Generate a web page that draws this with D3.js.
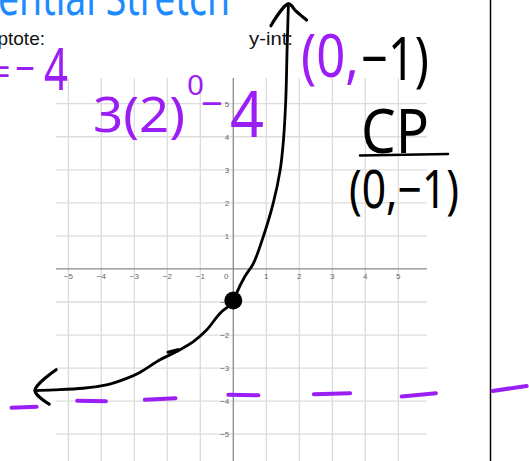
<!DOCTYPE html>
<html>
<head>
<meta charset="utf-8">
<script src="https://cdn.jsdelivr.net/npm/d3@7/dist/d3.min.js"></script>
<style>
  html, body { margin: 0; padding: 0; background: #fff; }
  svg { display: block; }
</style>
</head>
<body>
<script>
// Grid ticks on both axes
const xTicks = [-5, -4, -3, -2, -1, 0, 1, 2, 3, 4, 5];
const yTicks = [-5, -4, -3, -2, -1, 1, 2, 3, 4, 5];

// Sketched curve of y = 3(2)^x - 4, as traced through the grid
const curveX = [-6.01, -5.45, -4.55, -3.84, -3.23, -2.83, -2.22, -1.72, -1.21, -0.81, -0.40, 0.00, 0.10, 0.35, 0.61, 0.91, 1.21, 1.42, 1.52, 1.59, 1.63, 1.67];
const curveY = [-3.68, -3.66, -3.61, -3.51, -3.31, -3.13, -2.75, -2.50, -2.20, -1.85, -1.34, -1.00, -0.73, -0.23, 0.17, 0.98, 1.99, 2.99, 3.90, 5.11, 6.63, 8.02];

// Critical point (y-intercept)
const cpX = [0];
const cpY = [-1];

// Dashes of the horizontal asymptote y = -4
const dashX1 = [-6.72, -4.73, -2.68, -0.15, 2.44, 5.10, 7.86];
const dashX2 = [-5.96, -3.86, -1.75, 0.76, 3.54, 6.14, 8.89];
const dashY1 = [-4.20, -3.99, -3.96, -3.81, -3.79, -3.86, -3.69];
const dashY2 = [-4.17, -4.00, -3.91, -3.82, -3.76, -3.76, -3.54];

const W = 529, H = 461;
const purple = "#9b1ef5", blue = "#1d8bff";
const hand = "'Noto Sans', 'DejaVu Sans', sans-serif";

const svg = d3.select("body").append("svg").attr("width", W).attr("height", H);

const x = d3.scaleLinear().domain([-5, 5]).range([68.3, 398.3]);
const y = d3.scaleLinear().domain([-5, 5]).range([434.2, 103.7]);

// grid extent in data units
const gx0 = x.invert(56), gx1 = x.invert(427);
const gy1 = y.invert(78), gy0 = y.invert(H + 2);

const grid = svg.append("g");
grid.selectAll("line.v").data(xTicks).join("line")
  .attr("x1", d => x(d)).attr("x2", d => x(d))
  .attr("y1", y(gy1)).attr("y2", y(gy0))
  .attr("stroke", "#dcdcdc").attr("stroke-width", 1.3);
grid.selectAll("line.h").data(yTicks).join("line")
  .attr("x1", x(gx0)).attr("x2", x(gx1))
  .attr("y1", d => y(d)).attr("y2", d => y(d))
  .attr("stroke", "#dcdcdc").attr("stroke-width", 1.3);

// axes
svg.append("line").attr("x1", x(gx0)).attr("x2", x(gx1)).attr("y1", y(0)).attr("y2", y(0))
  .attr("stroke", "#8a8a8a").attr("stroke-width", 1.2);
svg.append("line").attr("x1", x(0)).attr("x2", x(0)).attr("y1", y(gy1)).attr("y2", y(gy0))
  .attr("stroke", "#8a8a8a").attr("stroke-width", 1.2);

const fmt = d => d < 0 ? "\u2212" + Math.abs(d) : String(d);
svg.append("g").selectAll("text").data(xTicks).join("text")
  .attr("x", d => d === 0 ? x(d) - 7 : x(d))
  .attr("y", y(0) + 10.5)
  .attr("text-anchor", "middle")
  .attr("font-family", "'Liberation Sans', Arial, sans-serif")
  .attr("font-size", 8).attr("fill", "#666")
  .text(fmt);
svg.append("g").selectAll("text").data(yTicks).join("text")
  .attr("x", x(0) - 4)
  .attr("y", d => y(d) + 3)
  .attr("text-anchor", "end")
  .attr("font-family", "'Liberation Sans', Arial, sans-serif")
  .attr("font-size", 8).attr("fill", "#666")
  .text(fmt);

// page header text
svg.append("text").attr("x", 45).attr("y", 45).attr("text-anchor", "end")
  .attr("font-family", "'Liberation Sans', Arial, sans-serif").attr("font-size", 19).attr("fill", "#111")
  .text("Asymptote:");
svg.append("text").attr("x", 249).attr("y", 45)
  .attr("font-family", "'Liberation Sans', Arial, sans-serif").attr("font-size", 19).attr("fill", "#111")
  .attr("textLength", 44).attr("lengthAdjust", "spacingAndGlyphs")
  .text("y-int:");

// page border on the right
svg.append("line").attr("x1", 490.5).attr("x2", 490.5).attr("y1", 0).attr("y2", H)
  .attr("stroke", "#000").attr("stroke-width", 1.5);

// handwritten title (cut at top)
svg.append("text").attr("x", -2).attr("y", 15)
  .attr("font-family", hand).attr("font-size", 50).attr("fill", blue)
  .attr("textLength", 232).attr("lengthAdjust", "spacingAndGlyphs")
  .text("ential Stretch");

// asymptote dashes
svg.append("g").selectAll("line").data(dashX1).join("line")
  .attr("x1", (d, i) => x(dashX1[i])).attr("x2", (d, i) => x(dashX2[i]))
  .attr("y1", (d, i) => y(dashY1[i])).attr("y2", (d, i) => y(dashY2[i]))
  .attr("stroke", purple).attr("stroke-width", 4).attr("stroke-linecap", "round");

// curve
const pts = curveX.map((d, i) => [d, curveY[i]]);
const line = d3.line().x(d => x(d[0])).y(d => y(d[1])).curve(d3.curveCatmullRom.alpha(0.5));
svg.append("path").attr("d", line(pts))
  .attr("fill", "none").attr("stroke", "#000").attr("stroke-width", 2.8)
  .attr("stroke-linecap", "round").attr("stroke-linejoin", "round");

// small stroke on the curve
svg.append("path").attr("d", d3.line().x(d => x(d[0])).y(d => y(d[1]))([[-1.98, -2.52], [-1.68, -2.44]]))
  .attr("fill", "none").attr("stroke", "#000").attr("stroke-width", 3).attr("stroke-linecap", "round");

// arrowheads at both ends of the curve
const tipL = pts[0], tipT = pts[pts.length - 1];
const arm = d3.line().x(d => x(d[0])).y(d => y(d[1])).curve(d3.curveCatmullRom);
[[[-5.37, -3.05], tipL, [-5.58, -4.09]],
 [[1.14, 7.36], tipT, [1.90, 7.80], [2.22, 7.53]]].forEach(a => {
  svg.append("path").attr("d", arm(a))
    .attr("fill", "none").attr("stroke", "#000").attr("stroke-width", 3.2)
    .attr("stroke-linecap", "round").attr("stroke-linejoin", "round");
});

// critical point
svg.append("g").selectAll("circle").data(cpX).join("circle")
  .attr("cx", d => x(d)).attr("cy", (d, i) => y(cpY[i]) - 1.5).attr("r", 9).attr("fill", "#000");

// handwritten notes
function note(txt, px, py, size, color, len) {
  const t = svg.append("text").attr("x", px).attr("y", py)
    .attr("font-family", hand).attr("font-size", size).attr("fill", color).text(txt);
  if (len) t.attr("textLength", len).attr("lengthAdjust", "spacingAndGlyphs");
  return t;
}
note("y=", 10, 86, 40, purple, 30).attr("text-anchor", "end");
note("\u2212", 15, 84, 44, purple, 20);
note("4", 44, 90, 58, purple, 24);

note("3(2)", 93, 132, 50, purple, 92);
note("0", 187, 95, 28, purple, 17);
note("\u2212", 201, 118, 40, purple, 22);
note("4", 230, 137, 64, purple, 34);

note("(0,", 301, 77, 60, purple, 58);
note("\u22121)", 361, 80, 60, "#000", 68);

note("CP", 361, 153, 62, "#000", 68);
svg.append("line").attr("x1", 360).attr("x2", 448).attr("y1", 155.5).attr("y2", 154)
  .attr("stroke", "#000").attr("stroke-width", 2.5).attr("stroke-linecap", "round");
note("(0,\u22121)", 349, 208, 52, "#000", 110);
</script>
</body>
</html>
